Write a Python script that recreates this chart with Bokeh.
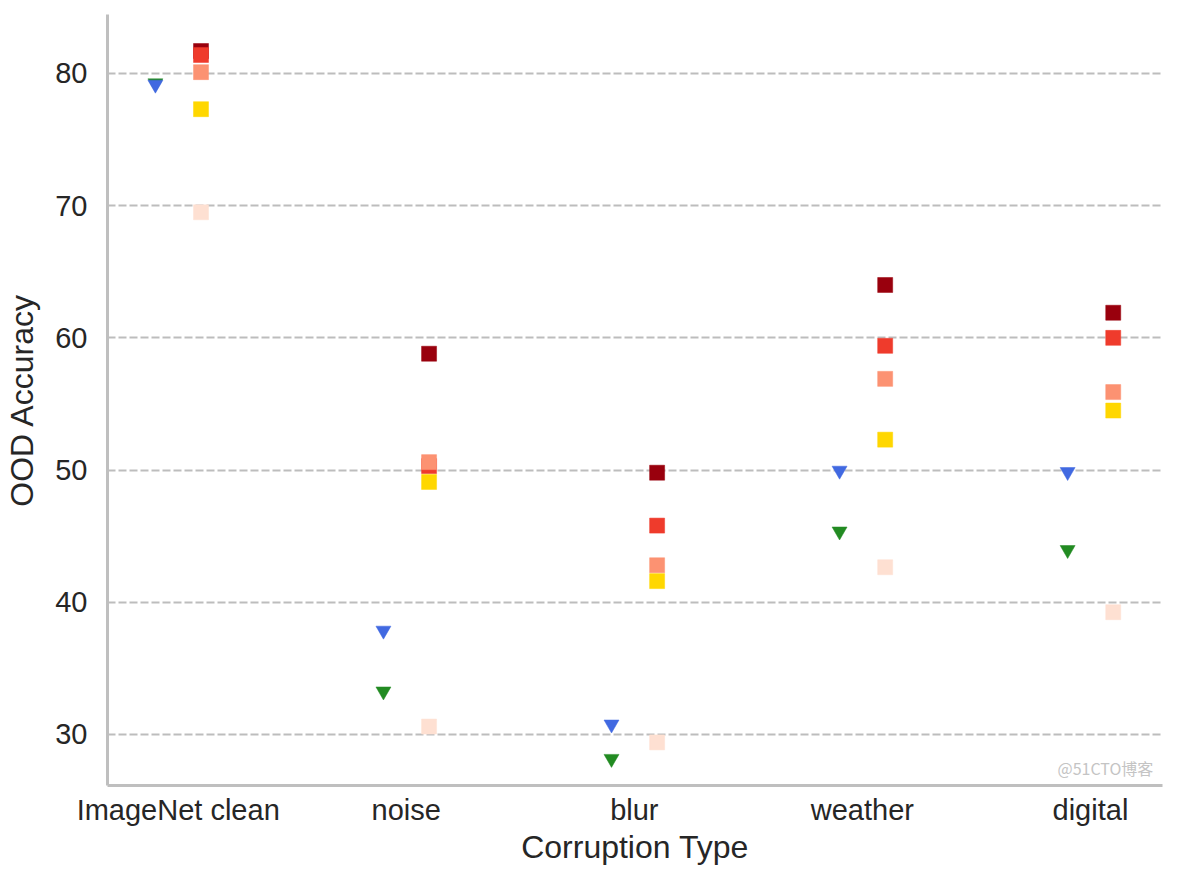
from bokeh.plotting import figure
from bokeh.models import ColumnDataSource, Range1d, FixedTicker, Label
from bokeh.transform import dodge
from bokeh.embed import file_html
from bokeh.resources import INLINE

# ---- data ----
categories = ["ImageNet clean", "noise", "blur", "weather", "digital"]
cat_index = [0, 1, 2, 3, 4]

green_tri = [79.1, 33.1, 28.0, 45.2, 43.8]
blue_tri = [79.0, 37.7, 30.6, 49.8, 49.7]

darkred_sq = [81.7, 58.8, 49.8, 64.0, 61.9]
red_sq = [81.4, 50.3, 45.8, 59.4, 60.0]
salmon_sq = [80.1, 50.6, 42.8, 56.9, 55.9]
gold_sq = [77.3, 49.1, 41.6, 52.3, 54.5]
pink_sq = [69.5, 30.6, 29.4, 42.65, 39.25]

y_ticks = [30, 40, 50, 60, 70, 80]

source = ColumnDataSource(dict(
    idx=cat_index,
    green=green_tri, blue=blue_tri,
    darkred=darkred_sq, red=red_sq, salmon=salmon_sq, gold=gold_sq, pink=pink_sq,
))

FONT = "Liberation Sans"
TXT = "#262626"

p = figure(width=1168, height=867, output_backend="svg", toolbar_location=None,
           x_range=Range1d(-0.31, 4.316), y_range=Range1d(26.14, 84.46),
           min_border_left=107, min_border_right=6, min_border_top=14, min_border_bottom=0)
p.outline_line_color = None
p.background_fill_color = "white"
p.border_fill_color = "white"

# grid
p.xgrid.grid_line_color = None
p.ygrid.ticker = FixedTicker(ticks=y_ticks)
p.ygrid.grid_line_color = "#bdbdbd"
p.ygrid.grid_line_width = 2
p.ygrid.grid_line_dash = "8 3"

# axes
for ax in (p.xaxis[0], p.yaxis[0]):
    ax.axis_line_color = "#bfbfbf"
    ax.axis_line_width = 3
    ax.major_tick_line_color = None
    ax.minor_tick_line_color = None
    ax.major_tick_out = 0
    ax.major_tick_in = 0
    ax.minor_tick_out = 0
    ax.minor_tick_in = 0
    ax.major_label_text_font = FONT
    ax.major_label_text_color = TXT
    ax.major_label_text_font_size = "29px"
    ax.axis_label_text_font = FONT
    ax.axis_label_text_color = TXT
    ax.axis_label_text_font_size = "32px"
    ax.axis_label_text_font_style = "normal"

p.xaxis.ticker = FixedTicker(ticks=cat_index)
p.xaxis.major_label_overrides = {i: c for i, c in zip(cat_index, categories)}
p.xaxis.major_label_standoff = 8
p.xaxis.axis_label = "Corruption Type"
p.xaxis.axis_label_standoff = 0

p.yaxis.ticker = FixedTicker(ticks=y_ticks)
p.yaxis.major_label_standoff = 20
p.yaxis.axis_label = "OOD Accuracy"
p.yaxis.axis_label_standoff = 12

# triangles (left of category), squares (right of category)
tri_shift = 0.165  # centre bokeh's centroid-anchored triangle on its bounding box
for col, color in (("green", "#228b22"), ("blue", "#4169e1")):
    p.scatter(x=dodge("idx", -0.1), y=dodge(col, tri_shift), source=source,
              marker="inverted_triangle", size=15, fill_color=color, line_color=color,
              line_width=0.5)

for col, color in (("darkred", "#99000d"), ("red", "#ef3b2c"), ("salmon", "#fc9272"),
                   ("gold", "#ffd700"), ("pink", "#fee0d2")):
    p.scatter(x=dodge("idx", 0.1), y=col, source=source,
              marker="square", size=15, fill_color=color, line_color=color, line_width=0.5)

# watermark (kept inside the plot frame, lower-right corner)
p.add_layout(Label(x=950, y=6, x_units="screen", y_units="screen", text="@51CTO博客",
                   text_font="Noto Sans CJK SC", text_font_size="16px", text_color="#c4c4c4"))

open("out.html", "w").write(file_html(p, INLINE))
